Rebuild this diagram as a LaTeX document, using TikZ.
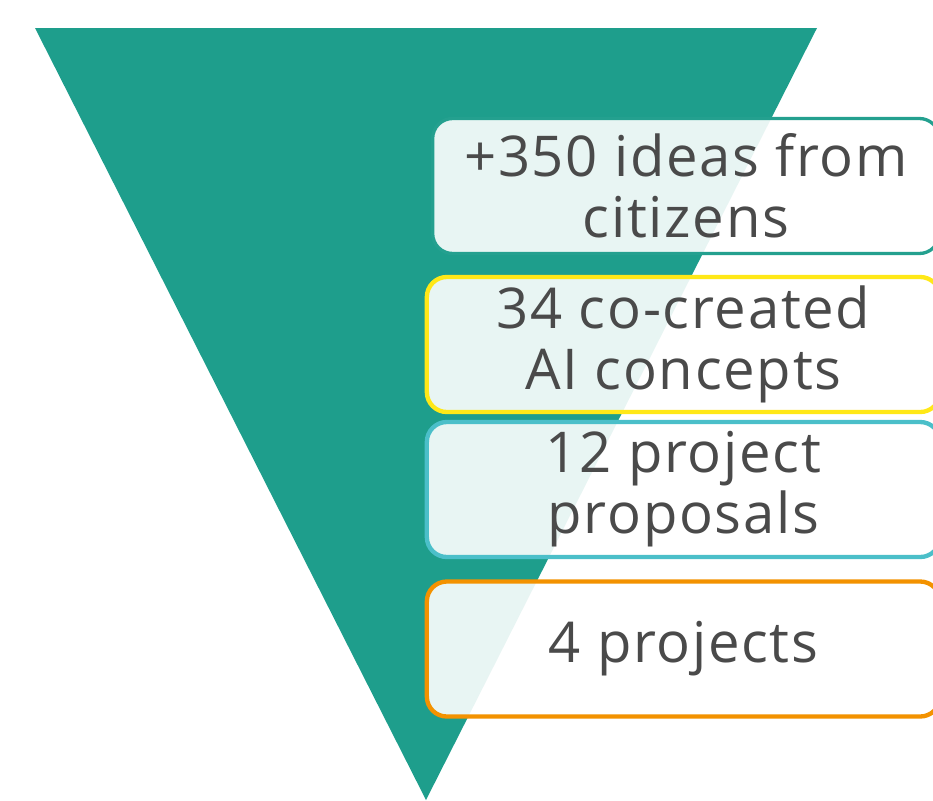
\documentclass[tikz,border=0pt]{standalone}
\usepackage{fontspec}
\setmainfont{Open Sans}[LetterSpace=3]
\usepackage{tikz}
\usetikzlibrary{positioning}
\definecolor{funnelteal}{HTML}{1E9E8C}
\definecolor{idealine}{HTML}{24A08F}
\definecolor{conceptline}{HTML}{FFE817}
\definecolor{proposalline}{HTML}{4BBFC9}
\definecolor{projectline}{HTML}{F39200}
\definecolor{labelgray}{HTML}{4A4A4A}

\begin{document}
\begin{tikzpicture}[x=0.03cm,y=-0.03cm]
		\tikzset{
			stagebox/.style={rounded corners=0.6cm,line width=1.3mm,fill=white,fill opacity=0.9,text opacity=1,text=labelgray,align=center,font=\fontsize{48}{52}\selectfont,minimum height=4.05cm,minimum width=15.4cm,inner sep=0pt},
		}
		\useasboundingbox (0,0) rectangle (933,800);
		\clip (0,0) rectangle (933,800);
		\coordinate (tl) at (35,28);
		\coordinate (tr) at (817,28);
		\coordinate (tip) at (426,800);
		\fill[funnelteal] (tl) -- (tr) -- (tip) -- cycle;
		\node[stagebox,draw=idealine,line width=1mm,minimum width=15.2cm] (ideas) at (686,186) {+350 ideas from\\citizens};
		\node[stagebox,draw=conceptline] (concepts) at (683.5,344.5) {34 co-created\\AI concepts};
		\node[stagebox,draw=proposalline] (proposals) at (683.5,489.5) {12 project\\proposals};
		\node[stagebox,draw=projectline] (projects) at (683.5,649) {4 projects};
	\end{tikzpicture}
\end{document}
